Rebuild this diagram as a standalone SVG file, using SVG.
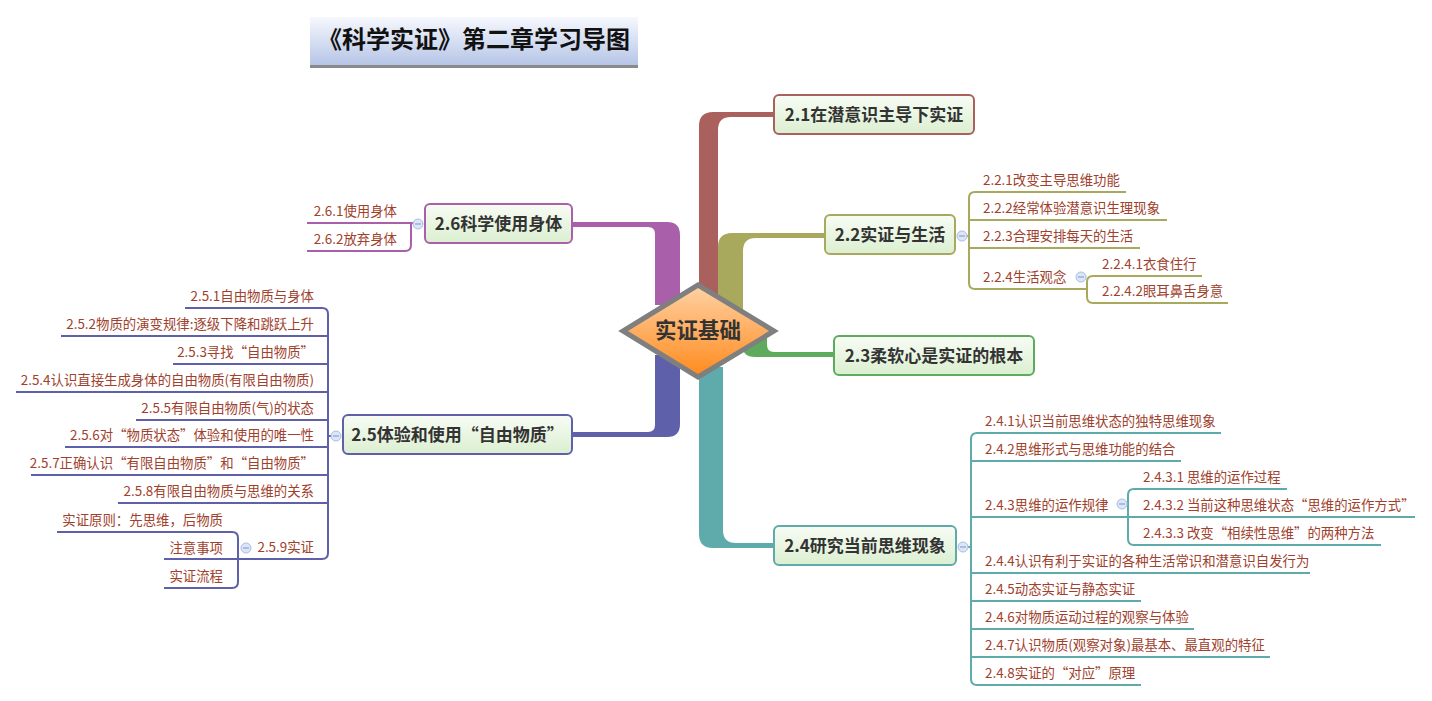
<svg xmlns="http://www.w3.org/2000/svg" width="1432" height="701" viewBox="0 0 1432 701">
<defs>
<linearGradient id="gNode" x1="0" y1="0" x2="0" y2="1"><stop offset="0" stop-color="#f8fcf5"/><stop offset="1" stop-color="#dbefd0"/></linearGradient>
<linearGradient id="gTitle" x1="0" y1="0" x2="0" y2="1"><stop offset="0" stop-color="#f6f8fd"/><stop offset="1" stop-color="#b6c5e7"/></linearGradient>
<linearGradient id="gCenter" x1="0" y1="0" x2="0" y2="1"><stop offset="0" stop-color="#ffd2a6"/><stop offset="1" stop-color="#ff8a1c"/></linearGradient>
<style>
.nt{font-family:"Noto Sans CJK SC","Microsoft YaHei",sans-serif;font-size:17px;font-weight:bold;fill:#333;text-anchor:middle}
.st{font-family:"Noto Sans CJK SC","Microsoft YaHei",sans-serif;font-size:13.4px;fill:#a0412d}
.se{text-anchor:end}
.box{fill:url(#gNode);stroke-width:2}
.ln{fill:none;stroke-width:2}
.cc{fill:#dce6f8;stroke:#a9bde6;stroke-width:1}
.cm{stroke:#7f93c0;stroke-width:1}
</style>
</defs>
<rect width="1432" height="701" fill="#ffffff"/>

<g id="title">
<rect x="310" y="65" width="328" height="3" fill="#8a8a8a"/>
<rect x="310" y="17" width="328" height="48" fill="url(#gTitle)"/>
<text x="474" y="48" font-family="Noto Sans CJK SC, Microsoft YaHei, sans-serif" font-size="24" font-weight="bold" fill="#111" text-anchor="middle">《科学实证》第二章学习导图</text>
</g>

<g id="connectors">
<!-- main branches -->
<path d="M699 305 L699 126 Q699 112 713 112 L775 112 L775 117 L731 117 Q718 117 718 130 L718 305 Z" fill="#aa605c"/>
<path d="M718 310 L718 247 Q718 233 732 233 L826 233 L826 238 L756 238 Q743 238 743 251 L743 310 Z" fill="#a9a95e"/>
<path d="M742 338 L742 344 Q742 357 755 357 L834 357 L834 352 L774 352 Q767 352 767 345 L767 338 Z" fill="#5eab5e"/>
<path d="M699 360 L699 534 Q699 548 713 548 L774 548 L774 543 L736 543 Q723 543 723 530 L723 367 L699 367 Z" fill="#5faaab"/>
<path d="M680 355 L680 424 Q680 437 667 437 L571 437 L571 432 L648 432 Q655 432 655 425 L655 355 Z" fill="#5f60aa"/>
<path d="M680 305 L680 235 Q680 222 667 222 L571 222 L571 227 L648 227 Q655 227 655 234 L655 305 Z" fill="#aa5faa"/>

<!-- 2.2 children -->
<g stroke="#a9a95e" class="ln">
<path d="M957 236 L969 236"/>
<path d="M1126 192 L975 192 Q969 192 969 198 L969 283 Q969 289 975 289 L1087 289"/>
<path d="M969 220 L1167 220"/>
<path d="M969 248 L1140 248"/>
<path d="M1202 276 L1093 276 Q1087 276 1087 282 L1087 297 Q1087 303 1093 303 L1228 303"/>
</g>
<!-- 2.4 children -->
<g stroke="#5faaab" class="ln">
<path d="M958 547 L971 547"/>
<path d="M1221 433 L977 433 Q971 433 971 439 L971 679 Q971 685 977 685 L1141 685"/>
<path d="M971 461 L1181 461"/>
<path d="M971 517 L1415 517"/>
<path d="M971 573 L1310 573"/>
<path d="M971 601 L1141 601"/>
<path d="M971 629 L1194 629"/>
<path d="M971 657 L1270 657"/>
<path d="M1287 489 L1134 489 Q1128 489 1128 495 L1128 539 Q1128 545 1134 545 L1381 545"/>
</g>
<!-- 2.5 children -->
<g stroke="#5f60aa" class="ln">
<path d="M341 436 L328 436"/>
<path d="M185 308 L322 308 Q328 308 328 314 L328 553 Q328 559 322 559 L164 559"/>
<path d="M328 336 L61 336"/>
<path d="M328 364 L173 364"/>
<path d="M328 392 L16 392"/>
<path d="M328 420 L136 420"/>
<path d="M328 447 L65 447"/>
<path d="M328 475 L31 475"/>
<path d="M328 503 L118 503"/>
<path d="M57 532 L232 532 Q238 532 238 538 L238 582 Q238 588 232 588 L164 588"/>
</g>
<!-- 2.6 children -->
<g stroke="#aa5faa" class="ln">
<path d="M307 223 L423 223"/>
<path d="M411 223 L411 245 Q411 251 405 251 L307 251"/>
</g>
</g>

<g id="center">
<polygon points="698,285 774,331 698,377 623,331" fill="url(#gCenter)" stroke="#7f7f7f" stroke-width="5" stroke-linejoin="miter"/>
<text x="698" y="338" font-family="Noto Sans CJK SC, Microsoft YaHei, sans-serif" font-size="21.5" font-weight="bold" fill="#333" text-anchor="middle">实证基础</text>
</g>

<g id="n21">
<rect class="box" x="774" y="95" width="200" height="39" rx="5" stroke="#aa605c"/>
<text class="nt" x="874" y="121">2.1在潜意识主导下实证</text>
</g>

<g id="n22">
<rect class="box" x="825" y="215" width="130" height="39" rx="5" stroke="#a9a95e"/>
<text class="nt" x="890" y="241">2.2实证与生活</text>
<circle class="cc" cx="962" cy="236" r="5"/><line class="cm" x1="959" y1="236" x2="965" y2="236"/>
</g>
<g id="n221"><text class="st" x="983" y="185">2.2.1改变主导思维功能</text></g>
<g id="n222"><text class="st" x="983" y="213">2.2.2经常体验潜意识生理现象</text></g>
<g id="n223"><text class="st" x="983" y="241">2.2.3合理安排每天的生活</text></g>
<g id="n224"><text class="st" x="983" y="282">2.2.4生活观念</text>
<circle class="cc" cx="1081" cy="277" r="5"/><line class="cm" x1="1078" y1="277" x2="1084" y2="277"/></g>
<g id="n2241"><text class="st" x="1102" y="269">2.2.4.1衣食住行</text></g>
<g id="n2242"><text class="st" x="1102" y="296">2.2.4.2眼耳鼻舌身意</text></g>

<g id="n23">
<rect class="box" x="834" y="336" width="200" height="39" rx="5" stroke="#5eab5e"/>
<text class="nt" x="934" y="362">2.3柔软心是实证的根本</text>
</g>

<g id="n24">
<rect class="box" x="774" y="526" width="182" height="39" rx="5" stroke="#5faaab"/>
<text class="nt" x="865" y="552">2.4研究当前思维现象</text>
<circle class="cc" cx="963" cy="547" r="5"/><line class="cm" x1="960" y1="547" x2="966" y2="547"/>
</g>
<g id="n241"><text class="st" x="985" y="426">2.4.1认识当前思维状态的独特思维现象</text></g>
<g id="n242"><text class="st" x="985" y="454">2.4.2思维形式与思维功能的结合</text></g>
<g id="n243"><text class="st" x="985" y="510">2.4.3思维的运作规律</text>
<circle class="cc" cx="1122" cy="504" r="5"/><line class="cm" x1="1119" y1="504" x2="1125" y2="504"/></g>
<g id="n2431"><text class="st" x="1143" y="482">2.4.3.1 思维的运作过程</text></g>
<g id="n2432"><text class="st" x="1143" y="510">2.4.3.2 当前这种思维状态“思维的运作方式”</text></g>
<g id="n2433"><text class="st" x="1143" y="538">2.4.3.3 改变“相续性思维”的两种方法</text></g>
<g id="n244"><text class="st" x="985" y="566">2.4.4认识有利于实证的各种生活常识和潜意识自发行为</text></g>
<g id="n245"><text class="st" x="985" y="594">2.4.5动态实证与静态实证</text></g>
<g id="n246"><text class="st" x="985" y="622">2.4.6对物质运动过程的观察与体验</text></g>
<g id="n247"><text class="st" x="985" y="650">2.4.7认识物质(观察对象)最基本、最直观的特征</text></g>
<g id="n248"><text class="st" x="985" y="678">2.4.8实证的“对应”原理</text></g>

<g id="n25">
<rect class="box" x="343" y="415" width="229" height="39" rx="5" stroke="#5f60aa"/>
<text class="nt" x="457.5" y="441">2.5体验和使用“自由物质”</text>
<circle class="cc" cx="336" cy="436" r="5"/><line class="cm" x1="333" y1="436" x2="339" y2="436"/>
</g>
<g id="n251"><text class="st se" x="314" y="301">2.5.1自由物质与身体</text></g>
<g id="n252"><text class="st se" x="314" y="329">2.5.2物质的演变规律:逐级下降和跳跃上升</text></g>
<g id="n253"><text class="st se" x="314" y="357">2.5.3寻找“自由物质”</text></g>
<g id="n254"><text class="st se" x="314" y="385">2.5.4认识直接生成身体的自由物质(有限自由物质)</text></g>
<g id="n255"><text class="st se" x="314" y="413">2.5.5有限自由物质(气)的状态</text></g>
<g id="n256"><text class="st se" x="314" y="440">2.5.6对“物质状态”体验和使用的唯一性</text></g>
<g id="n257"><text class="st se" x="314" y="468">2.5.7正确认识“有限自由物质”和“自由物质”</text></g>
<g id="n258"><text class="st se" x="314" y="496">2.5.8有限自由物质与思维的关系</text></g>
<g id="n259"><text class="st se" x="314" y="552">2.5.9实证</text>
<circle class="cc" cx="246" cy="548" r="5"/><line class="cm" x1="243" y1="548" x2="249" y2="548"/></g>
<g id="n2591"><text class="st se" x="223" y="525">实证原则：先思维，后物质</text></g>
<g id="n2592"><text class="st se" x="223" y="553">注意事项</text></g>
<g id="n2593"><text class="st se" x="223" y="581">实证流程</text></g>

<g id="n26">
<rect class="box" x="425" y="204" width="147" height="39" rx="5" stroke="#aa5faa"/>
<text class="nt" x="498.5" y="230">2.6科学使用身体</text>
<circle class="cc" cx="418" cy="224" r="5"/><line class="cm" x1="415" y1="224" x2="421" y2="224"/>
</g>
<g id="n261"><text class="st se" x="397" y="216">2.6.1使用身体</text></g>
<g id="n262"><text class="st se" x="397" y="244">2.6.2放弃身体</text></g>
</svg>
